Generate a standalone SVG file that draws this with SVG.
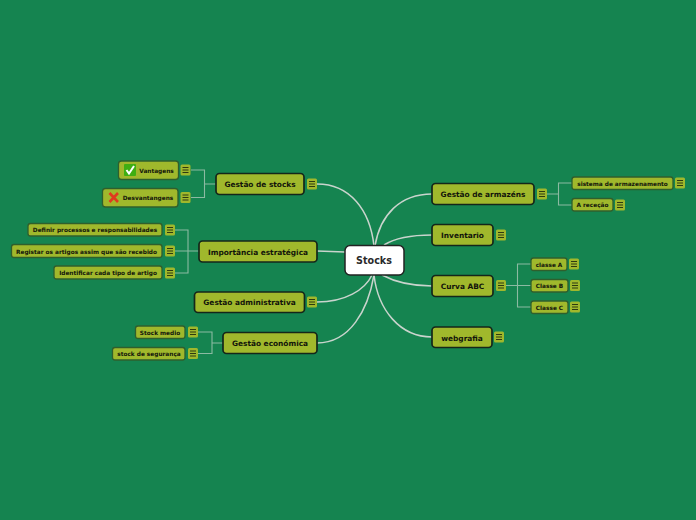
<svg xmlns="http://www.w3.org/2000/svg" width="696" height="520" viewBox="0 0 696 520">
<defs>
<style>
text{font-family:"DejaVu Sans",Verdana,sans-serif;font-weight:700;fill:#12140a;text-anchor:middle}
.m rect{fill:#a0b82c;stroke:#14261a;stroke-width:1.700}
.m text{font-size:7.400px}
.s rect{fill:#a0b82c;stroke:#2f5f2c;stroke-width:1.300}
.s text{font-size:5.800px}
.c path{fill:none}
.a{stroke:#c9d4cd;stroke-width:1.500;fill:none}
.b{stroke:#a9c8b6;stroke-width:1.100;fill:none;opacity:.8}
.n rect{fill:#a0b82c;stroke:none}
.n path{stroke:#2e3a10;stroke-width:1;fill:none}
</style>
<g id="note" class="n"><rect x="-5" y="-5.500" width="10" height="11" rx="1.500"/><rect x="-3.400" y="-3.700" width="6.800" height="7.400" fill="#7d8f2a"/><path d="M-3 -2.500H3M-3 0H3M-3 2.500H3"/></g>
</defs>
<rect width="696" height="520" fill="#158450"/>
<g id="connectors" class="c">
<path class="a" d="M374 246C370 210 350 184 317 184"/>
<path class="a" d="M375 246C380 215 400 194 432 194"/>
<path class="a" d="M384 245C395 238 410 235 432 235"/>
<path class="a" d="M317 251L345 252"/>
<path class="a" d="M382 275C395 282 410 286 432 286"/>
<path class="a" d="M374 275C378 310 400 337 432 337"/>
<path class="a" d="M372 275C365 290 345 302 317 302"/>
<path class="a" d="M374 275C368 310 350 343 317 343"/>
<path class="b" d="M216 184H204.500M191 170H204.500V197.500H191"/>
<path class="b" d="M199 251H175M175 230H188V273H175"/>
<path class="b" d="M223 343H212M198 332H212V353.500H198"/>
<path class="b" d="M547 194H558.500M572 183H558.500V205H572"/>
<path class="b" d="M506 285.500H531M531 264H517.500V307H531"/>
</g>
<g id="center"><rect x="345" y="245.500" width="59" height="29.500" rx="5" fill="#fff" stroke="#222" stroke-width="1.500"/><text x="374" y="264" style="font-size:9.600px;fill:#2a2a2a">Stocks</text></g>
<g id="n1" class="m"><rect x="216" y="173.500" width="88" height="21" rx="3.500"/><text x="260" y="187">Gestão de stocks</text><use href="#note" x="312" y="184"/></g>
<g id="n2" class="m"><rect x="199" y="241" width="118" height="21" rx="3.500"/><text x="258" y="254.500">Importância estratégica</text></g>
<g id="n3" class="m"><rect x="194.500" y="292" width="110" height="20.500" rx="3.500"/><text x="249.500" y="305">Gestão administrativa</text><use href="#note" x="312" y="302"/></g>
<g id="n4" class="m"><rect x="223" y="332.500" width="94" height="21" rx="3.500"/><text x="270" y="346">Gestão económica</text></g>
<g id="n5" class="m"><rect x="432" y="183.500" width="102" height="21" rx="3.500"/><text x="483" y="197">Gestão de armazéns</text><use href="#note" x="542" y="194"/></g>
<g id="n6" class="m"><rect x="432" y="224.500" width="61" height="21" rx="3.500"/><text x="462.500" y="238">Inventario</text><use href="#note" x="501" y="235"/></g>
<g id="n7" class="m"><rect x="432" y="275.500" width="61" height="21" rx="3.500"/><text x="462.500" y="288.500">Curva ABC</text><use href="#note" x="501" y="285.500"/></g>
<g id="n8" class="m"><rect x="432" y="327" width="60" height="20.500" rx="3.500"/><text x="462" y="340.500">webgrafia</text><use href="#note" x="499" y="337"/></g>
<g id="s1" class="s"><rect x="118.500" y="161" width="60" height="18.500" rx="3"/><rect x="124" y="164" width="12" height="12" rx="1" style="fill:#3fae12;stroke:none"/><path d="M126.500 170L129 173.500L134 166" fill="none" stroke="#fff" stroke-width="2"/><text x="156.500" y="172.500">Vantagens</text><use href="#note" x="185.500" y="170"/></g>
<g id="s2" class="s"><rect x="102.500" y="188.500" width="75.500" height="18.500" rx="3"/><path d="M109.500 193L118 202M118 193L109.500 202" fill="none" stroke="#e03a1e" stroke-width="2.600"/><text x="148" y="200">Desvantangens</text><use href="#note" x="185.500" y="197.500"/></g>
<g id="s3" class="s"><rect x="28" y="223.500" width="134" height="12.500" rx="2.500"/><text x="95" y="232">Definir processos e responsabilidades</text><use href="#note" x="170" y="230"/></g>
<g id="s4" class="s"><rect x="11.500" y="244.500" width="150.500" height="13" rx="2.500"/><text x="86.500" y="254">Registar os artigos assim que são recebido</text><use href="#note" x="170" y="251"/></g>
<g id="s5" class="s"><rect x="54" y="266" width="108" height="13" rx="2.500"/><text x="108" y="275">Identificar cada tipo de artigo</text><use href="#note" x="170" y="273"/></g>
<g id="s6" class="s"><rect x="135.500" y="326" width="49.500" height="12.500" rx="2.500"/><text x="160" y="334.500">Stock medio</text><use href="#note" x="193" y="332"/></g>
<g id="s7" class="s"><rect x="112.500" y="347.500" width="72.500" height="12.500" rx="2.500"/><text x="149" y="356">stock de segurança</text><use href="#note" x="193" y="353.500"/></g>
<g id="s8" class="s"><rect x="572" y="177" width="101" height="12.500" rx="2.500"/><text x="622.500" y="186">sistema de armazenamento</text><use href="#note" x="680" y="183"/></g>
<g id="s9" class="s"><rect x="572" y="198.500" width="41" height="12.500" rx="2.500"/><text x="592.500" y="207">A receção</text><use href="#note" x="620" y="205"/></g>
<g id="s10" class="s"><rect x="531" y="258" width="36" height="12.500" rx="2.500"/><text x="549" y="266.500">classe A</text><use href="#note" x="574" y="264"/></g>
<g id="s11" class="s"><rect x="531" y="279.500" width="37" height="12.500" rx="2.500"/><text x="549.500" y="288">Classe B</text><use href="#note" x="575" y="285.500"/></g>
<g id="s12" class="s"><rect x="531" y="301" width="37" height="12.500" rx="2.500"/><text x="549.500" y="309.500">Classe C</text><use href="#note" x="575" y="307"/></g>
</svg>
